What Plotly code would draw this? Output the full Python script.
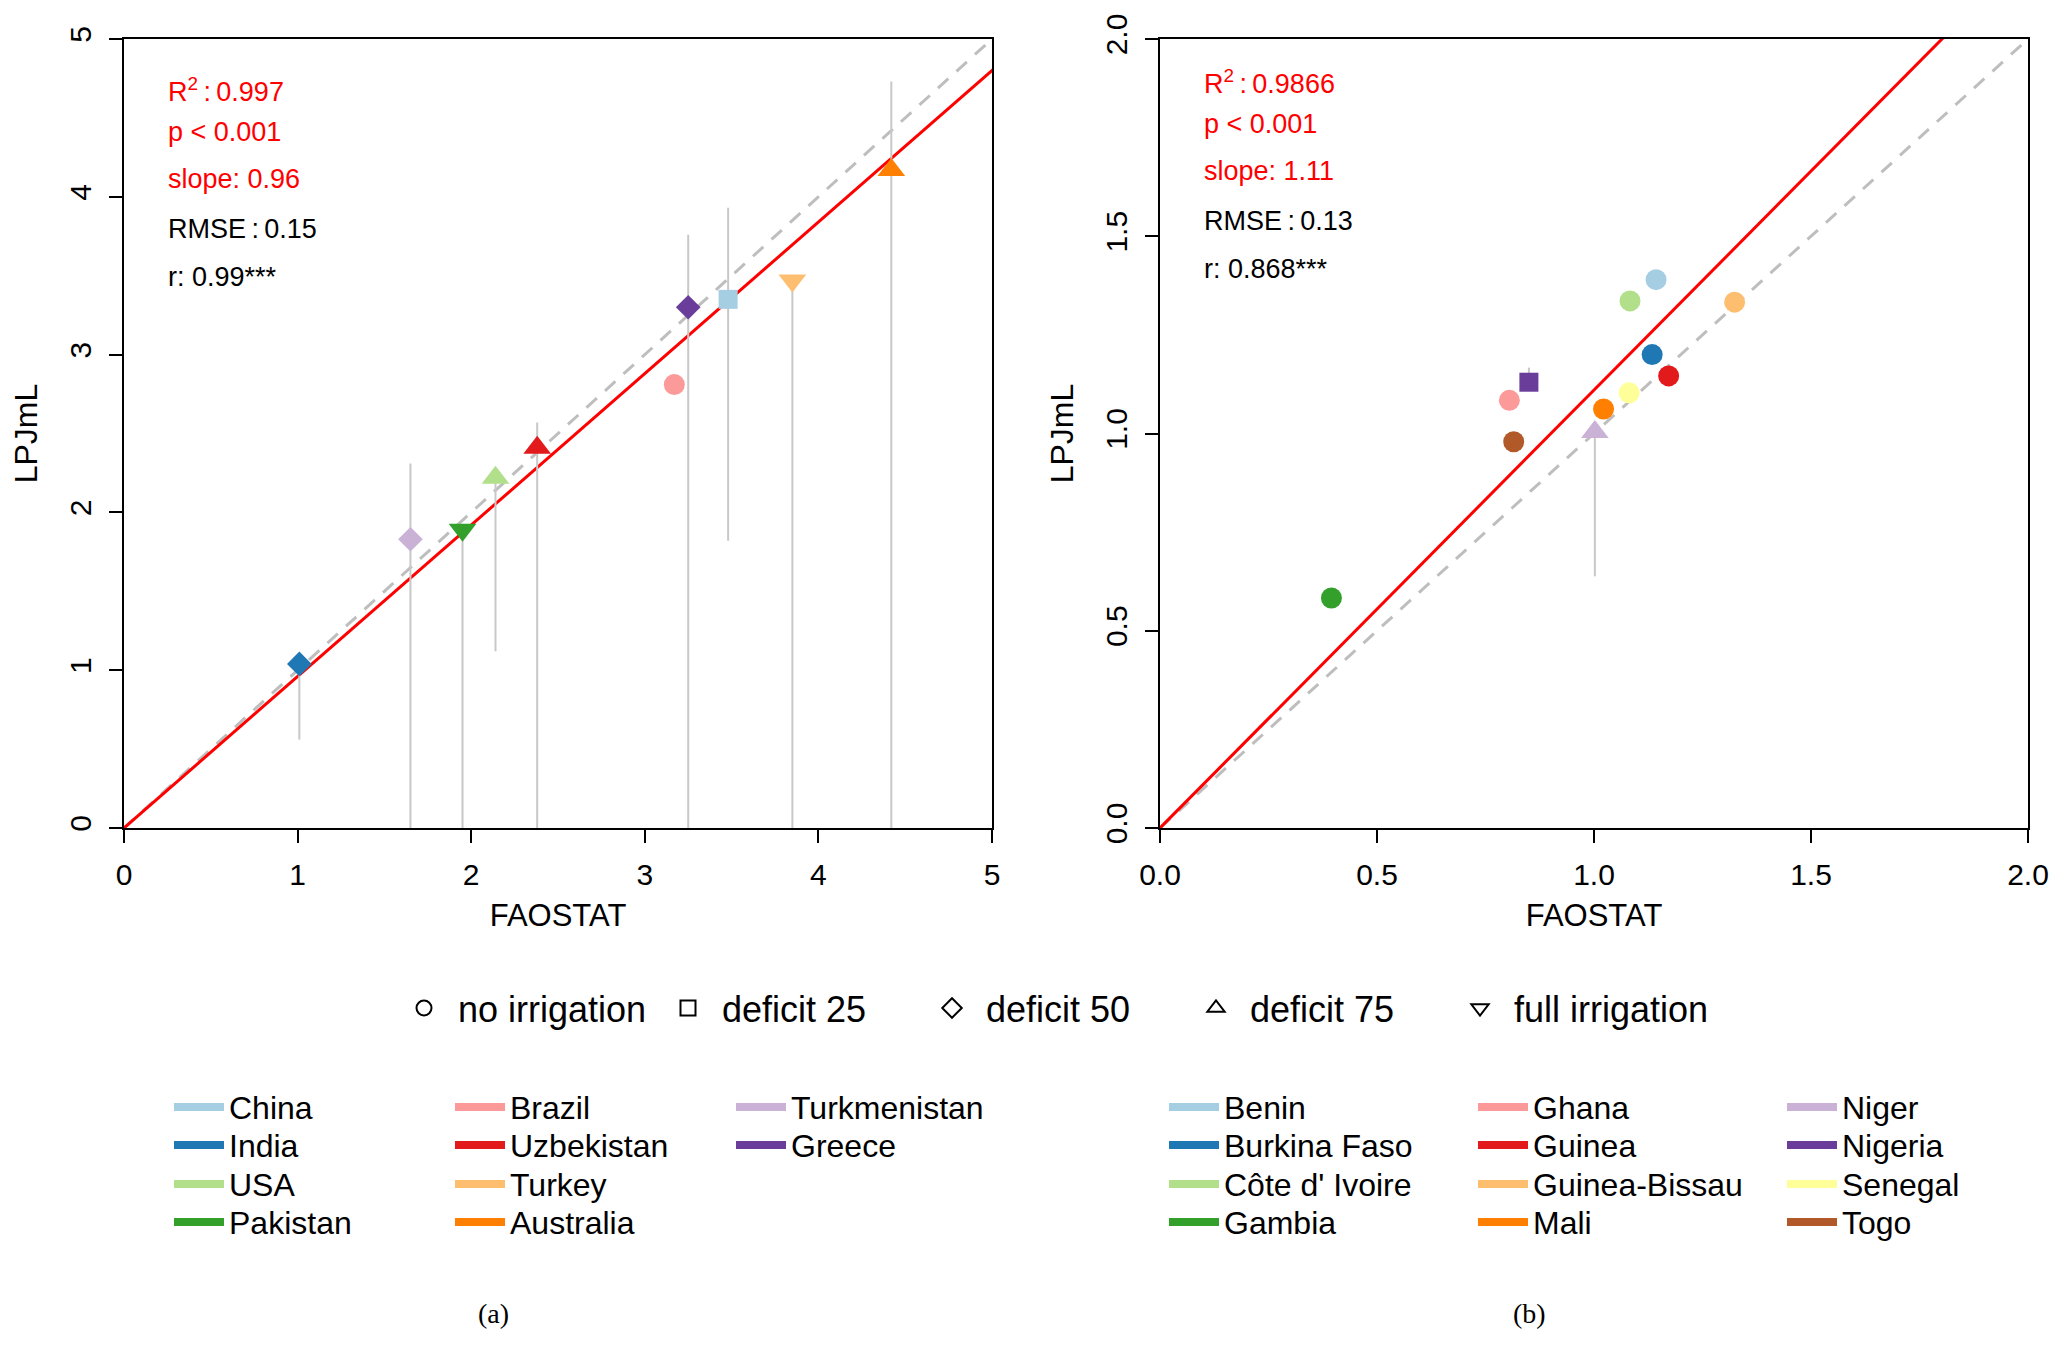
import plotly.graph_objects as go

# panel (a): irrigated countries
countries_a = ["China", "India", "USA", "Pakistan", "Brazil", "Uzbekistan",
               "Turkey", "Australia", "Turkmenistan", "Greece"]
faostat_a = [3.48, 1.01, 2.14, 1.95, 3.17, 2.38, 3.85, 4.42, 1.65, 3.25]
lpjml_a = [3.35, 1.04, 2.22, 1.89, 2.81, 2.41, 3.47, 4.17, 1.83, 3.30]
scenario_a = ["deficit 25", "deficit 50", "deficit 75", "full irrigation", "no irrigation",
              "deficit 75", "full irrigation", "deficit 75", "deficit 50", "deficit 50"]
range_low_a = [1.82, 0.56, 1.12, 0.0, None, 0.0, 0.0, 0.0, 0.0, 0.0]
range_high_a = [3.93, 1.04, 2.22, 1.89, None, 2.57, 3.47, 4.73, 2.31, 3.76]
stats_a = {"r2": "0.997", "p": "< 0.001", "slope": 0.96, "rmse": "0.15", "r": "0.99***"}

# panel (b): west africa
countries_b = ["Benin", "Burkina Faso", "Côte d' Ivoire", "Gambia", "Ghana", "Guinea",
               "Guinea-Bissau", "Mali", "Niger", "Nigeria", "Senegal", "Togo"]
faostat_b = [1.143, 1.134, 1.083, 0.395, 0.805, 1.172, 1.324, 1.022, 1.002, 0.850, 1.081, 0.815]
lpjml_b = [1.390, 1.200, 1.336, 0.583, 1.084, 1.146, 1.333, 1.062, 1.004, 1.130, 1.103, 0.979]
scenario_b = ["no irrigation"] * 8 + ["deficit 75", "deficit 25", "no irrigation", "no irrigation"]
range_low_b = [None] * 8 + [0.638, 1.130, None, None]
range_high_b = [None] * 8 + [1.004, 1.167, None, None]
stats_b = {"r2": "0.9866", "p": "< 0.001", "slope": 1.11, "rmse": "0.13", "r": "0.868***"}

scenarios = ["no irrigation", "deficit 25", "deficit 50", "deficit 75", "full irrigation"]
axis_max_a = 5
axis_max_b = 2

paired = ["#A6CEE3", "#1F78B4", "#B2DF8A", "#33A02C", "#FB9A99", "#E31A1C",
          "#FDBF6F", "#FF7F00", "#CAB2D6", "#6A3D9A", "#FFFF99", "#B15928"]
filled = {"no irrigation": "circle", "deficit 25": "square", "deficit 50": "diamond",
          "deficit 75": "triangle-up", "full irrigation": "triangle-down"}
opened = {k: v + "-open" for k, v in filled.items()}
msize = {"circle": 21, "square": 19, "diamond": 19, "triangle-up": 24, "triangle-down": 24}

# the page body has an 8px margin, so the figure is 8px smaller and all
# pixel positions below are page positions
OFF = 8
W, H = 2067 - OFF, 1348 - OFF
FONT = "Liberation Sans, Arial, sans-serif"
px = lambda v: (v - OFF) / W
py = lambda v: 1 - (v - OFF) / H
ROW_Y = [1107, 1145, 1184, 1222]  # centre of each legend row (pixels)

fig = go.Figure()


def panel(xa, ya, countries, fao, lpj, scen, lo, hi, stats, amax, tag, top_shift):
    # 1:1 line and regression line through origin
    fig.add_trace(go.Scatter(x=[0, amax], y=[0, amax], mode="lines", xaxis=xa, yaxis=ya,
                             line=dict(color="#BEBEBE", width=3, dash="14px,11px"),
                             showlegend=False, hoverinfo="skip"))
    fig.add_trace(go.Scatter(x=[0, amax * 1.2], y=[0, amax * 1.2 * stats["slope"]], mode="lines",
                             xaxis=xa, yaxis=ya, line=dict(color="#FF0000", width=3),
                             showlegend=False, hoverinfo="skip"))
    n_rows = 4
    for i, c in enumerate(countries):
        sym = filled[scen[i]]
        if lo[i] is not None:
            fig.add_trace(go.Scatter(x=[fao[i], fao[i]], y=[lo[i], hi[i]], mode="lines",
                                     xaxis=xa, yaxis=ya, line=dict(color="#C8C8C8", width=2),
                                     showlegend=False, hoverinfo="skip"))
        fig.add_trace(go.Scatter(x=[fao[i]], y=[lpj[i]], mode="markers", xaxis=xa, yaxis=ya,
                                 marker=dict(symbol=sym, size=msize[sym], color=paired[i],
                                             line=dict(width=0)),
                                 name=c, showlegend=False))
        # legend entry (line swatch), one horizontal legend per row, filled column-wise
        fig.add_trace(go.Scatter(x=[None], y=[None], mode="lines", name=c,
                                 line=dict(color=paired[i], width=8),
                                 legend=tag[i % n_rows], legendrank=i // n_rows,
                                 showlegend=True))
    # stats text
    lines = [("R<sup>2</sup>\u2009:\u2009" + stats["r2"], "#FF0000", 90),
             ("p " + stats["p"], "#FF0000", 132),
             ("slope: " + str(stats["slope"]), "#FF0000", 179),
             ("RMSE\u2009:\u2009" + stats["rmse"], "black", 229),
             ("r: " + stats["r"], "black", 277)]
    for txt, col, yp in lines:
        fig.add_annotation(text=txt, xref=xa + " domain", yref=ya + " domain",
                           x=42 / 868, y=(828 - (yp - top_shift)) / 789,
                           xanchor="left", yanchor="middle", showarrow=False,
                           font=dict(size=27, color=col, family=FONT))


tags_a = ["legend2", "legend3", "legend4", "legend5"]
tags_b = ["legend6", "legend7", "legend8", "legend9"]
panel("x", "y", countries_a, faostat_a, lpjml_a, scenario_a, range_low_a, range_high_a,
      stats_a, axis_max_a, tags_a, 0)
panel("x2", "y2", countries_b, faostat_b, lpjml_b, scenario_b, range_low_b, range_high_b,
      stats_b, axis_max_b, tags_b, 8)

# scenario symbol legend
for s in scenarios:
    fig.add_trace(go.Scatter(x=[None], y=[None], mode="markers", name=s,
                             marker=dict(symbol=opened[s], size=15, color="black",
                                         line=dict(width=2, color="black")),
                             legend="legend", showlegend=True))

axis_common = dict(showline=True, mirror=True, linecolor="black", linewidth=2,
                   ticks="outside", ticklen=13, tickwidth=2, tickcolor="black",
                   showgrid=False, zeroline=False, automargin=False,
                   tickfont=dict(size=30, family=FONT, color="black"),
                   ticklabelstandoff=6, fixedrange=True)
ydom = [py(828), py(39)]
fig.update_layout(
    width=W, height=H, margin=dict(l=0, r=0, t=0, b=0, autoexpand=False),
    paper_bgcolor="white", plot_bgcolor="white",
    font=dict(family=FONT, color="black"),
    xaxis=dict(domain=[px(124), px(992)], range=[0, axis_max_a], tickvals=[0, 1, 2, 3, 4, 5],
               anchor="y", title=dict(text="FAOSTAT", font=dict(size=31), standoff=14), **axis_common),
    yaxis=dict(domain=ydom, range=[0, axis_max_a], tickvals=[0, 1, 2, 3, 4, 5], tickangle=-90,
               anchor="x", title=dict(text="LPJmL", font=dict(size=32), standoff=17), **axis_common),
    xaxis2=dict(domain=[px(1160), px(2028)], range=[0, axis_max_b], tickvals=[0, 0.5, 1, 1.5, 2],
                tickformat=".1f", anchor="y2",
                title=dict(text="FAOSTAT", font=dict(size=31), standoff=14), **axis_common),
    yaxis2=dict(domain=ydom, range=[0, axis_max_b], tickvals=[0, 0.5, 1, 1.5, 2], tickformat=".1f",
                tickangle=-90, anchor="x2",
                title=dict(text="LPJmL", font=dict(size=32), standoff=17), **axis_common),
)

LEG_FS = 32
item_h = LEG_FS * 1.3 + 3
row_common = dict(xanchor="left", yanchor="top", orientation="h",
                  font=dict(size=LEG_FS, family=FONT, color="black"), bgcolor="rgba(0,0,0,0)",
                  itemwidth=50, entrywidthmode="pixels", itemclick=False, itemdoubleclick=False,
                  traceorder="normal")
for tags, x0, ew in [(tags_a, 169, 216), (tags_b, 1164, 244)]:
    for r, name in enumerate(tags):
        fig.update_layout({name: dict(x=px(x0), y=py(ROW_Y[r] - item_h / 2 - 5),
                                      entrywidth=ew, **row_common)})

SHAPE_FS = 36
fig.update_layout(legend=dict(x=px(390), y=py(1008 - (SHAPE_FS * 1.3 + 3) / 2 - 5),
                              xanchor="left", yanchor="top", orientation="h",
                              font=dict(size=SHAPE_FS, family=FONT, color="black"),
                              bgcolor="rgba(0,0,0,0)", itemwidth=58, entrywidth=191,
                              entrywidthmode="pixels", itemsizing="trace",
                              itemclick=False, itemdoubleclick=False))

for lab, xc in [("(a)", 493), ("(b)", 1529)]:
    fig.add_annotation(text=lab, xref="paper", yref="paper", x=px(xc), y=py(1313),
                       xanchor="center", yanchor="middle", showarrow=False,
                       font=dict(size=28, family="Liberation Serif, Times New Roman, serif",
                                 color="black"))

fig.write_html("out.html")
